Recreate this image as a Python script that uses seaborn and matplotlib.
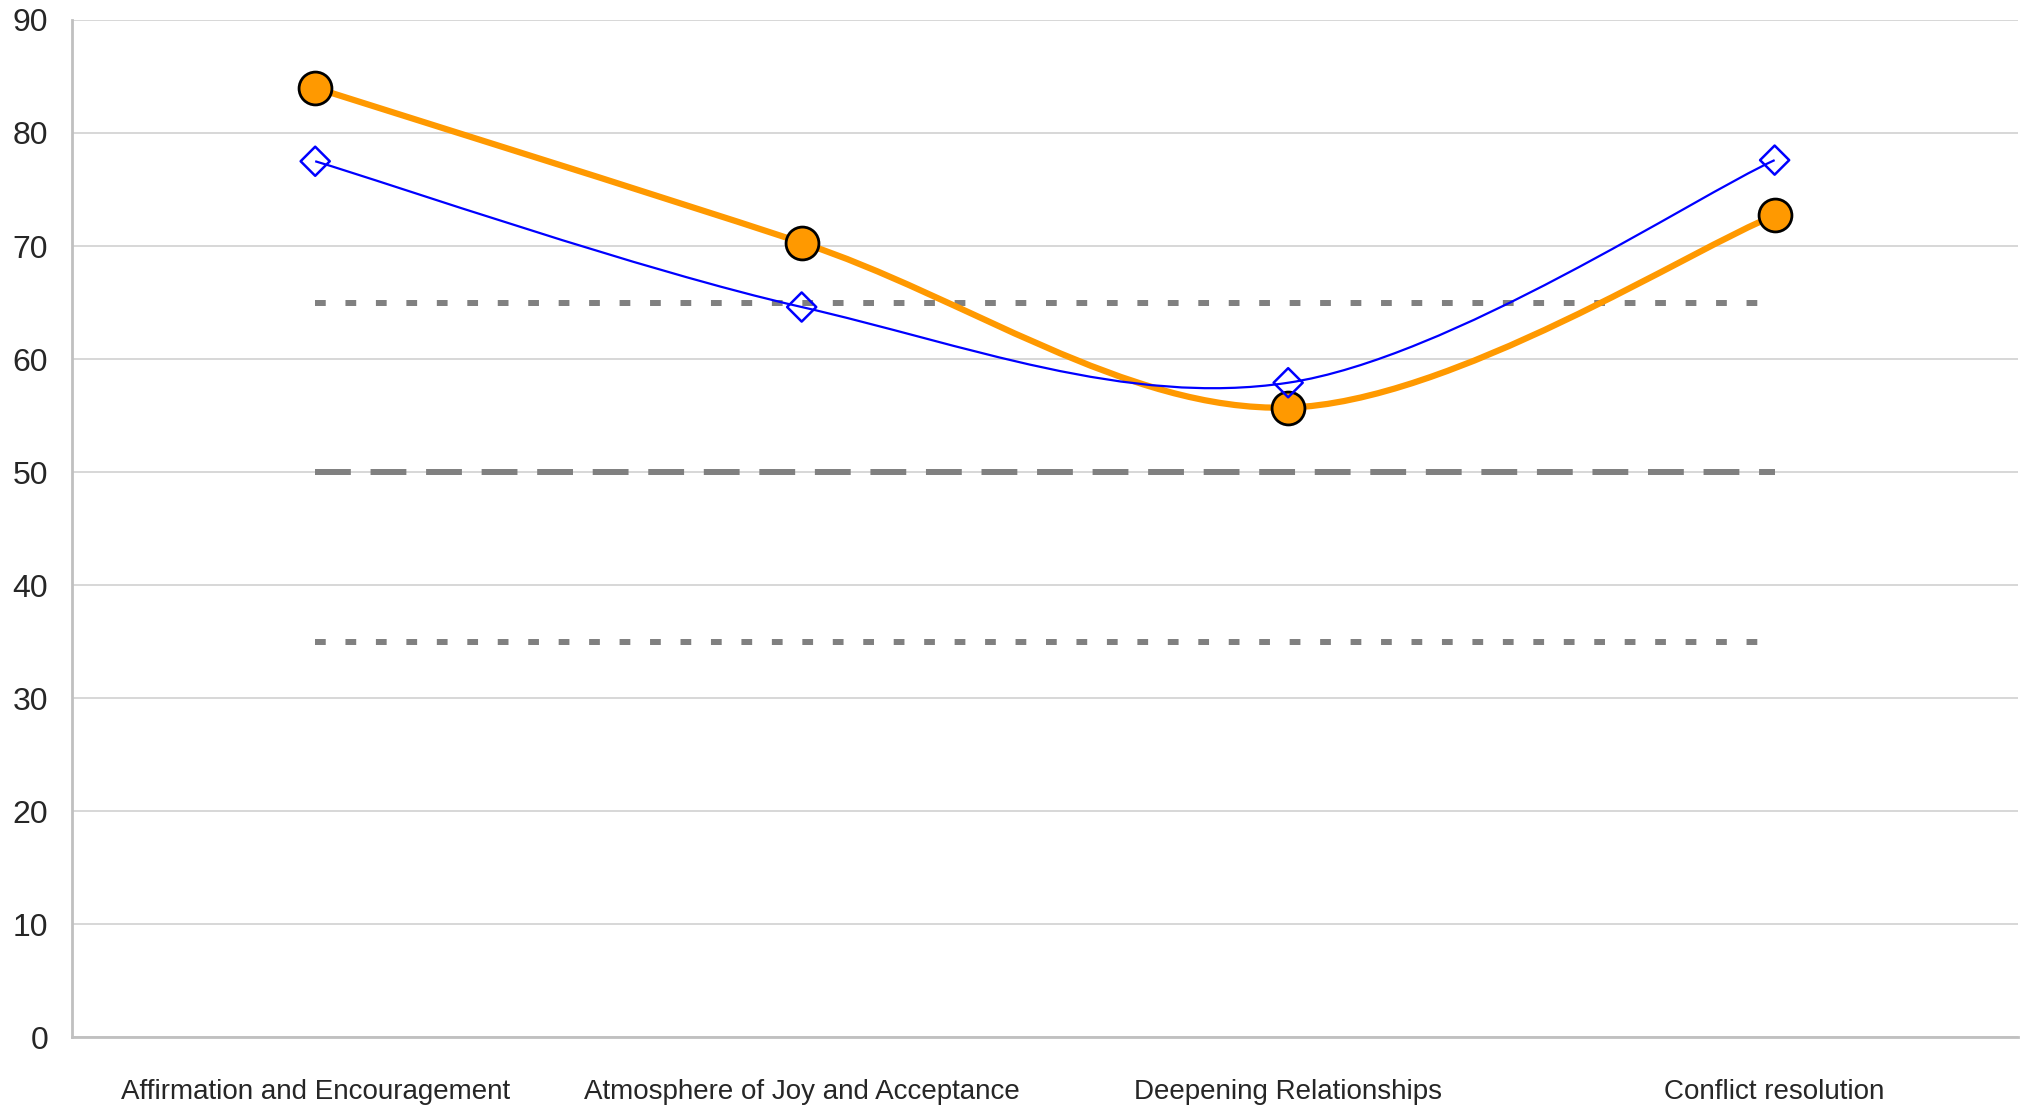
import numpy as np
import matplotlib
matplotlib.use("Agg")
import matplotlib.pyplot as plt
from matplotlib.path import Path
from matplotlib.patches import PathPatch
import seaborn as sns
import pandas as pd

categories = ["Affirmation and Encouragement", "Atmosphere of Joy and Acceptance",
              "Deepening Relationships", "Conflict resolution"]
orange_values = [84.0, 70.3, 55.7, 72.7]
blue_values = [77.5, 64.6, 57.9, 77.6]
upper_ref = 65
mid_ref = 50
lower_ref = 35
y_ticks = list(range(0, 91, 10))

sns.set_style("white")
plt.rcParams['font.family'] = ['Liberation Sans Narrow', 'Liberation Sans', 'DejaVu Sans']


def smooth_path(xs, ys):
    # Excel-like smoothed line: Catmull-Rom as cubic Bezier segments
    pts = np.column_stack([xs, ys]).astype(float)
    ext = np.vstack([pts[0], pts, pts[-1]])
    verts = [tuple(pts[0])]
    codes = [Path.MOVETO]
    for i in range(len(pts) - 1):
        p0, p1, p2, p3 = ext[i], ext[i + 1], ext[i + 2], ext[i + 3]
        c1 = p1 + (p2 - p0) / 6
        c2 = p2 - (p3 - p1) / 6
        verts += [tuple(c1), tuple(c2), tuple(p2)]
        codes += [Path.CURVE4] * 3
    return Path(verts, codes)


df = pd.DataFrame({"pos": range(len(categories)), "orange": orange_values, "blue": blue_values})

fig = plt.figure(figsize=(20.27, 11.11), dpi=100)
ax = fig.add_axes([0.0355, 0.0666, 0.96, 0.9154])

# reference lines
ref_lw = 4.3
ax.hlines(upper_ref, 0, 3, color="#808080", lw=ref_lw, linestyles=(0, (1.8, 3.3)), zorder=2)
ax.hlines(lower_ref, 0, 3, color="#808080", lw=ref_lw, linestyles=(0, (1.8, 3.3)), zorder=2)
ax.hlines(mid_ref, 0, 3, color="#808080", lw=ref_lw, linestyles=(0, (6.0, 3.3)), zorder=2)

# smoothed lines
ax.add_patch(PathPatch(smooth_path(df["pos"], df["orange"]), fill=False,
                       edgecolor="#FF9900", lw=4.5, zorder=3, capstyle="butt"))
sns.scatterplot(data=df, x="pos", y="orange", ax=ax, s=560, color="#FF9900",
                edgecolor="black", linewidth=2, zorder=4, legend=False)
ax.add_patch(PathPatch(smooth_path(df["pos"], df["blue"]), fill=False,
                       edgecolor="#0000FF", lw=1.6, zorder=5))
sns.scatterplot(data=df, x="pos", y="blue", ax=ax, s=220, marker="D", facecolor="white",
                edgecolor="#0000FF", linewidth=1.8, zorder=6, legend=False)
ax.collections[-1].set_facecolor("none")

ax.set_xlim(-0.5, 3.5)
ax.set_ylim(0, 90)
ax.set_yticks(y_ticks)
ax.set_yticklabels([str(t) for t in y_ticks], fontsize=23)
ax.set_xticks(np.arange(-0.5, 4, 1))
ax.set_xticklabels([])
ax.set_xticks(range(len(categories)), minor=True)
ax.set_xticklabels(categories, minor=True, fontsize=20)
ax.tick_params(axis="x", which="minor", length=0, pad=30)
ax.tick_params(axis="x", which="major", length=9, width=2, color="#c0c0c0", direction="out")
ax.tick_params(axis="y", length=9, width=2, color="#c0c0c0", direction="out", pad=8)
ax.set_xlabel("")
ax.set_ylabel("")
ax.grid(axis="y", color="#d4d4d4", lw=1.3)
ax.set_axisbelow(True)
for side in ["top", "right"]:
    ax.spines[side].set_visible(False)
for side in ["left", "bottom"]:
    ax.spines[side].set_color("#c0c0c0")
    ax.spines[side].set_linewidth(2)

fig.savefig("out.png", dpi=100)
